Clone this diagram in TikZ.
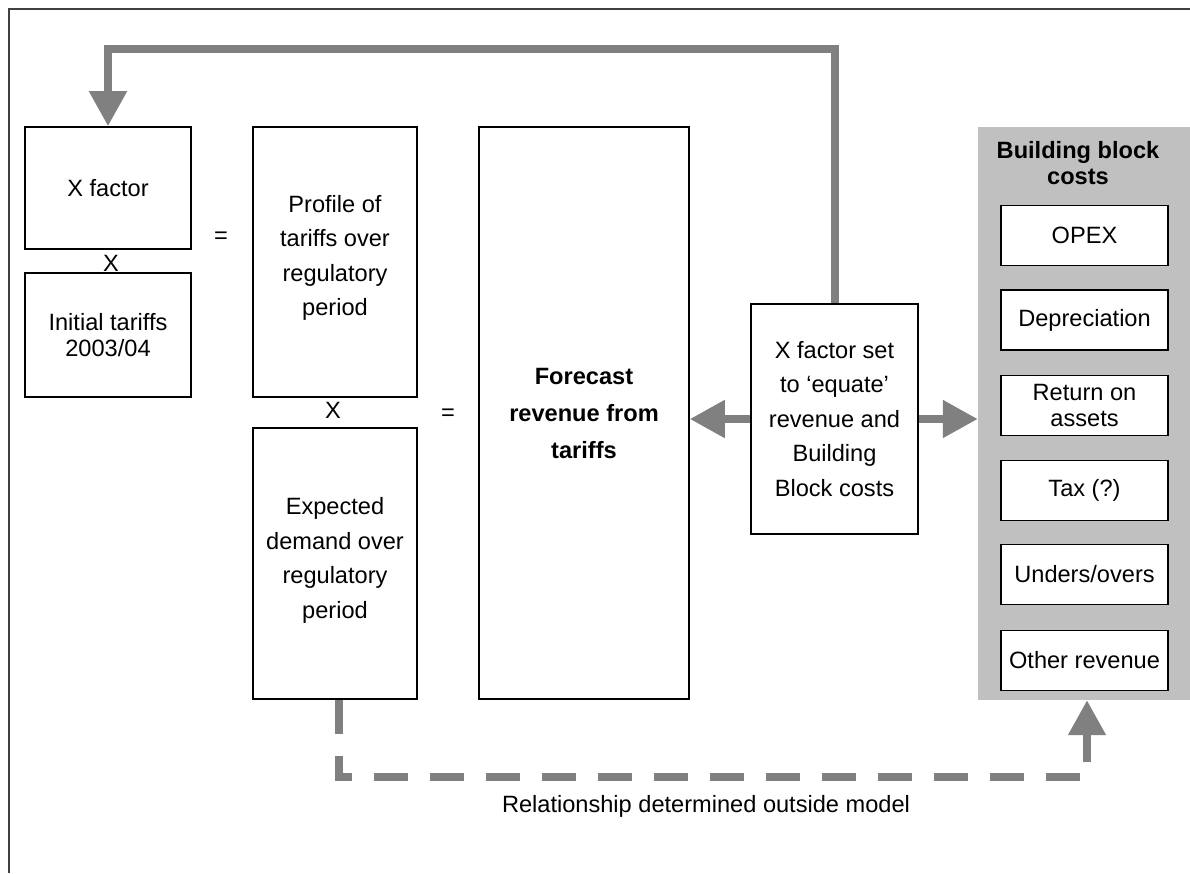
\documentclass[tikz,border=0pt]{standalone}
\usepackage{fontspec}
\setmainfont{Liberation Sans}
\usetikzlibrary{arrows.meta}
\definecolor{arrgray}{RGB}{128,128,128}
\definecolor{panelgray}{RGB}{192,192,192}
\definecolor{bordergray}{RGB}{64,64,64}
\begin{document}
\begin{tikzpicture}[x=1pt,y=-1pt,
  box/.style={draw=black, line width=1.6pt, fill=white, align=center, inner sep=0pt,
    font=\fontsize{23.6}{34.5}\selectfont},
  tightbox/.style={box, font=\fontsize{23.6}{26}\selectfont},
  subbox/.style={tightbox, minimum width=167pt, minimum height=60pt},
  txt/.style={inner sep=0pt, font=\fontsize{23.6}{28}\selectfont},
  boxtxt/.style={inner sep=0pt, align=center, font=\fontsize{23.6}{34.5}\selectfont},
  bigtip/.tip={Triangle[length=35pt,width=36pt]},
  arr/.style={draw=arrgray, line width=8pt, line join=miter},
]
\useasboundingbox (0,0) rectangle (1190,873);
\fill[white] (0,0) rectangle (1190,873);
% frame
\draw[bordergray, line width=1.5pt] (1190,9) -- (9,9) -- (9,873);

% left column
\node[box, minimum width=166pt, minimum height=122pt] (xfac) at (108,188) {X factor};
\node[tightbox, minimum width=166pt, minimum height=124pt] (init) at (108,335) {Initial tariffs\\2003/04};
\node[txt] (x1) at (111,263) {X};
\node[txt] (eq1) at (221,238) {=};

% middle column
\node[box, minimum width=164pt, minimum height=270pt] (prof) at (335,262) {};
\node[boxtxt] (profT) at (335,258) {Profile of\\tariffs over\\regulatory\\period};
\node[box, minimum width=164pt, minimum height=271pt] (dem) at (335,563.5) {};
\node[boxtxt] (demT) at (335,560.5) {Expected\\demand over\\regulatory\\period};
\node[txt] (x2) at (333,410) {X};
\node[txt] (eq2) at (448,415) {=};

% forecast
\node[box, minimum width=210pt, minimum height=572pt, font=\bfseries\fontsize{23.6}{37}\selectfont] (fore) at (584,413) {Forecast\\revenue from\\tariffs};

% x factor set
\node[box, minimum width=167pt, minimum height=230pt] (xset) at (834.5,419) {X factor set\\to ‘equate’\\revenue and\\Building\\Block costs};

% building block panel
\node[fill=panelgray, minimum width=212pt, minimum height=573pt, inner sep=0pt] (panel) at (1084,413.5) {};
\node[txt, align=center, font=\bfseries\fontsize{23.6}{26}\selectfont] (title) at (1078,163) {Building block\\costs};
\node[subbox] (opex) at (1084.5,235.5) {OPEX};
\node[subbox] (depr) at (1084.5,320) {Depreciation};
\node[subbox] (ret) at (1084.5,405.5) {Return on\\assets};
\node[subbox] (tax) at (1084.5,490.5) {Tax (?)};
\node[subbox] (uo) at (1084.5,574.5) {Unders/overs};
\node[subbox] (oth) at (1084.5,660.5) {Other revenue};

% arrows
\coordinate (fbtop) at (0,49);
\draw[arr, -bigtip] (xset.north) -- (xset.north |- fbtop) -| (xfac.north);
\draw[arr, -bigtip] (xset.west) -- (xset.west -| fore.east);
\draw[arr, -bigtip] (xset.east) -- (xset.east -| panel.west);

\coordinate (dbot) at (0,777);
\draw[arr, dash pattern=on 34pt off 22pt, -bigtip] ([xshift=4pt]dem.south) |- ([xshift=3pt]panel.south |- dbot) -- ([xshift=3pt]panel.south);

\node[txt, anchor=base] (rel) at (706,812) {Relationship determined outside model};
\end{tikzpicture}
\end{document}
